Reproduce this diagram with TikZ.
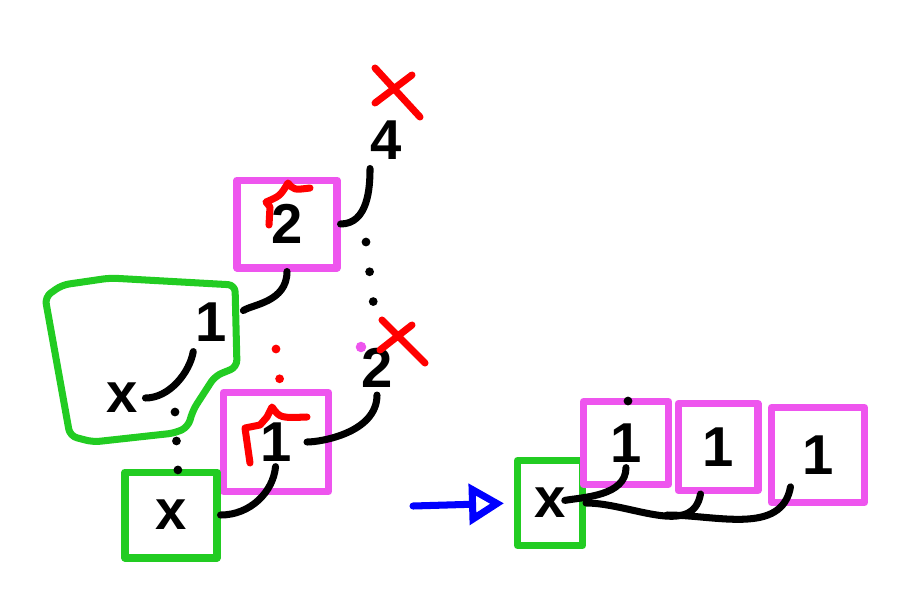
\documentclass[tikz,border=0pt]{standalone}
\usepackage{fontspec}
\setmainfont{Liberation Sans}
\usetikzlibrary{arrows.meta}
\definecolor{sketchpink}{HTML}{EE55EE}
\definecolor{sketchgreen}{HTML}{22CC22}
\definecolor{sketchred}{HTML}{FF0000}
\definecolor{sketchblue}{HTML}{0000FF}

\begin{document}
\begin{tikzpicture}[x=0.02cm,y=-0.02cm,line cap=round,line join=round,
  cell/.style={rectangle,draw=sketchpink,line width=4pt,inner sep=0pt,
    font=\fontsize{32}{32}\selectfont\bfseries},
  head/.style={rectangle,draw=sketchgreen,line width=4pt,inner sep=0pt,
    font=\fontsize{32}{32}\selectfont\bfseries},
  lbl/.style={inner sep=0pt,font=\fontsize{32}{32}\selectfont\bfseries},
  link/.style={line width=4pt},
  dotrun/.style={line width=5pt,dash pattern=on 0pt off 0.6cm},
  strike/.style={draw=sketchred,line width=4pt},
  pointer/.style={draw=sketchblue,line width=4pt,
    -{Triangle[open,length=0.7cm,width=0.8cm]}}]

  \useasboundingbox (0,0) rectangle (909,609);

  % left tree
  \node[cell,minimum width=2cm,minimum height=1.76cm] (p2) at (287,224) {2};
  \node[cell,minimum width=2.1cm,minimum height=1.98cm] (p1) at (276,442) {1};
  \node[head,minimum width=1.84cm,minimum height=1.72cm] (g2) at (171,515) {x};
  \node[lbl] (n4) at (386,140) {4};
  \node[lbl] (n2) at (377,368) {2};

  \draw[sketchgreen,line width=4pt,rounded corners=4pt]
    (45,297) -- (62,285) -- (110,278) -- (235,285) -- (237,367)
    -- (215,376) -- (193,410) -- (188,427) -- (175,433) -- (93,442)
    -- (70,436) -- cycle;
  \node[lbl] (go1) at (211,322) {1};
  \node[lbl] (gx) at (122,398) {x};

  \draw[strike] (375,103) -- (412,75) (375,68) -- (420,117);
  \draw[strike] (380,350) -- (412,325) (382,320) -- (425,363);
  \draw[strike] (269,225) -- (270,207) -- (266,202) .. controls (280,196) .. (288,183)
    .. controls (294,190) .. (310,188);
  \draw[strike] (250,463) -- (245,428) -- (260,425) -- (267,417) -- (272,407)
    .. controls (280,418) .. (307,417);
  \fill[sketchpink] (361,347) circle (3pt);

  \coordinate (d1) at (366,242);
  \coordinate (d2) at (374,308);
  \coordinate (d3) at (175,412);
  \coordinate (d4) at (178,472);
  \coordinate (d5) at (276,349);
  \coordinate (d6) at (280,382);
  \draw[dotrun] (d1) -- (d2);
  \draw[dotrun,dash pattern=on 0pt off 0.58cm] (d3) -- (d4);
  \draw[dotrun,sketchred] (d5) -- (d6);

  \draw[link,shorten <=5pt] (n4.south west) to[out=-90,in=0] (p2.east);
  \draw[link,shorten >=0.4cm] (p2.south) to[out=-90,in=35] (go1.east);
  \draw[link,shorten <=0.2cm,shorten >=0.15cm] (go1.south west) to[out=-100,in=0] (gx.east);
  \draw[link,shorten <=4pt,shorten >=0.62cm] (n2.south) to[out=-90,in=0] (p1.center);
  \draw[link,shorten <=3pt] (p1.base) to[out=-95,in=0] (g2.east);

  % right list
  \node[head,minimum width=1.3cm,minimum height=1.7cm] (g3) at (550,503) {x};
  \node[cell,minimum width=1.7cm,minimum height=1.66cm] (q1) at (626,443) {1};
  \node[cell,minimum width=1.6cm,minimum height=1.74cm] (q2) at (718,447) {1};
  \node[cell,minimum width=1.86cm,minimum height=1.9cm] (q3) at (818,455) {1};
  \fill (628,401) circle (2.5pt);

  \coordinate (src) at (413,506);
  \coordinate (q3tail) at (667,515);
  \draw[pointer,shorten >=0.2cm] (src) -- (g3.west);

  \draw[link,shorten <=3pt,shorten >=0.3cm] (q1.base) to[out=-90,in=10] (g3.center);
  \draw[link] ([xshift=-0.35cm]q2.south) to[out=-100,in=0] (g3.east);
  \draw[link] ([xshift=-0.55cm,yshift=-0.25cm]q3.base) to[out=-100,in=0] (q3tail);
\end{tikzpicture}
\end{document}
